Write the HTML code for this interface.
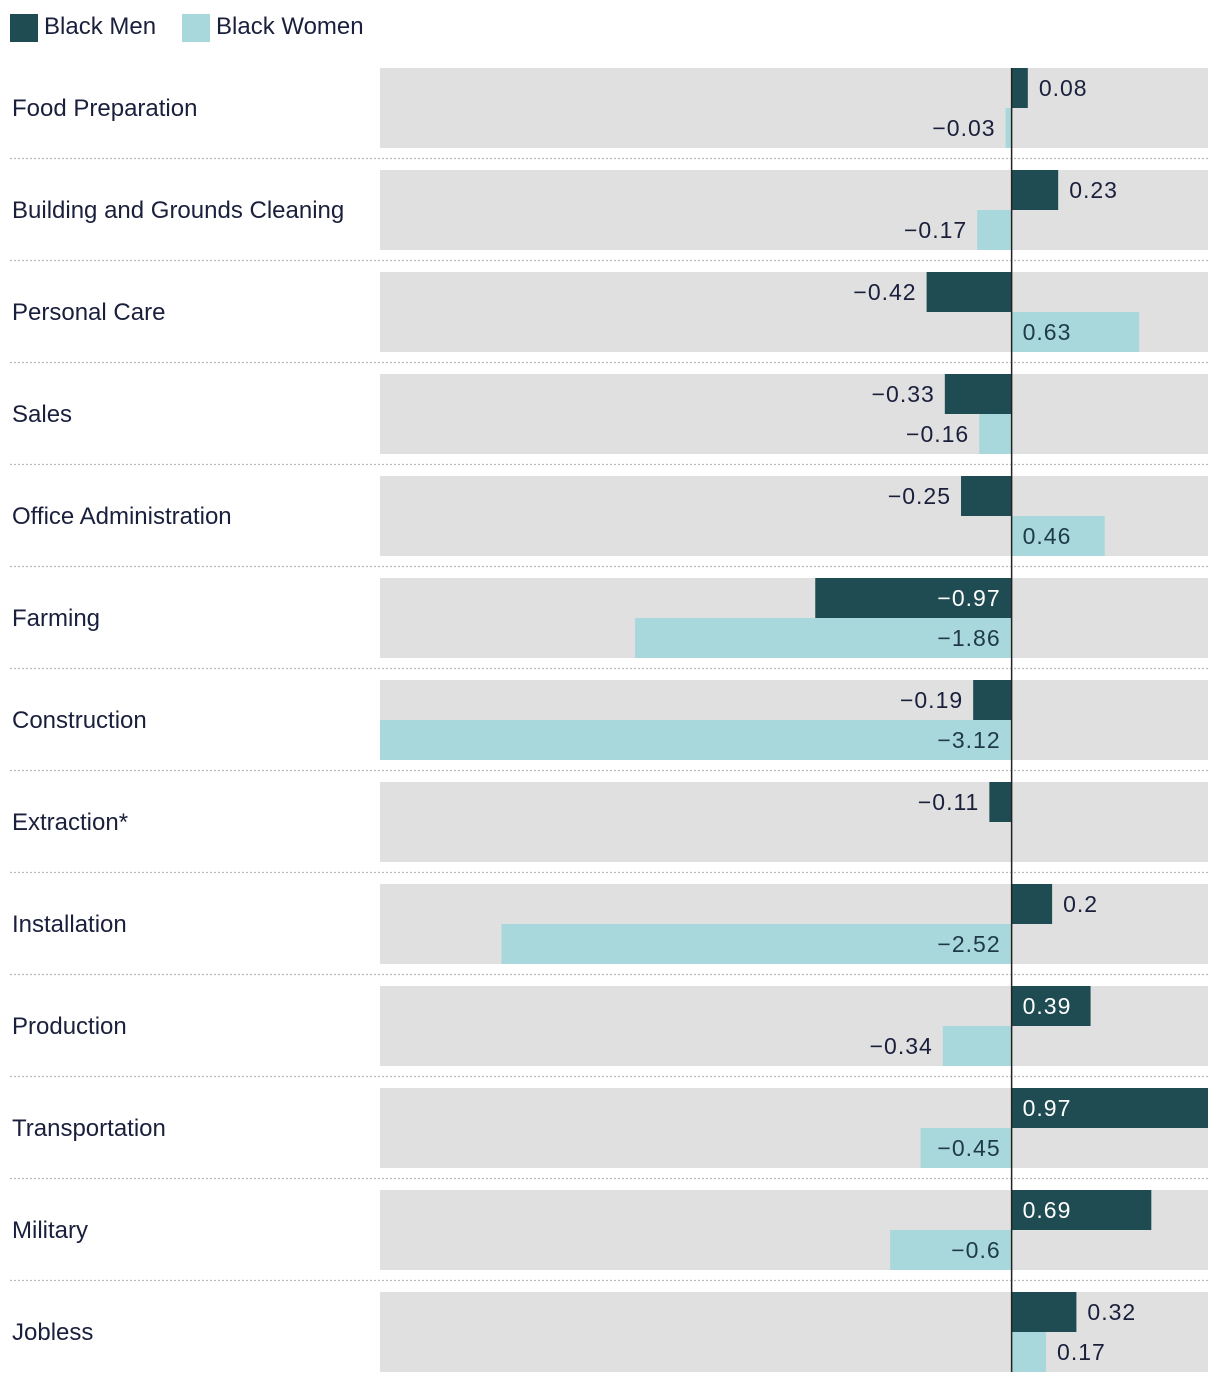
<!DOCTYPE html>
<html><head><meta charset="utf-8">
<style>
body{margin:0;background:#fff;width:1220px;height:1384px;overflow:hidden;font-family:"Liberation Sans",sans-serif;}
svg text{font-family:"Liberation Sans",sans-serif;}
</style></head>
<body>
<svg id="c" width="1220" height="1384" xmlns="http://www.w3.org/2000/svg">
  <g>
    <rect x="10" y="14" width="28" height="28" fill="#1e4c52"/>
    <text x="44" y="34" font-size="24" fill="#1a1f3c">Black Men</text>
    <rect x="182" y="14" width="28" height="28" fill="#a8d8dc"/>
    <text x="216" y="34" font-size="24" fill="#1a1f3c">Black Women</text>
  </g>
</svg>
<script>
const categories=["Food Preparation","Building and Grounds Cleaning","Personal Care","Sales","Office Administration","Farming","Construction","Extraction*","Installation","Production","Transportation","Military","Jobless"];
const menValues=[0.08,0.23,-0.42,-0.33,-0.25,-0.97,-0.19,-0.11,0.2,0.39,0.97,0.69,0.32];
const womenValues=[-0.03,-0.17,0.63,-0.16,0.46,-1.86,-3.12,null,-2.52,-0.34,-0.45,-0.6,0.17];
const xMin=-3.12,xMax=0.97;
const svg=document.getElementById('c');
const NS="http://www.w3.org/2000/svg";
const L=380,R=1208,top0=68,pitch=102,bh=40;
function x(v){return L+(v-xMin)/(xMax-xMin)*(R-L);}
function mk(t,a){const e=document.createElementNS(NS,t);for(const k in a)e.setAttribute(k,a[k]);svg.appendChild(e);return e;}
const x0=x(0);
categories.forEach((cat,i)=>{
  const y=top0+i*pitch;
  const band=mk('rect',{x:L,y:y,width:R-L,height:80,fill:'#e0e0e0'});
  
  
  const lab=mk('text',{x:12,y:y+48,'font-size':24,fill:'#1a1f3c'});
  lab.textContent=cat;
  
  
  if(i<categories.length-1){
    const sep=mk('line',{x1:10,x2:R,y1:y+90.5,y2:y+90.5,stroke:'#bbb','stroke-width':1.2,'stroke-dasharray':'2,2'});
    
    
  }
  [[menValues[i],'#1e4c52','#ffffff',y],[womenValues[i],'#a8d8dc','#1e3a4a',y+40]].forEach(([v,col,inCol,by],k)=>{
    if(v===null||v===undefined)return;
    const xa=x(Math.min(0,v)),xb=x(Math.max(0,v));
    const w=xb-xa;
    const b=mk('rect',{x:xa,y:by,width:Math.max(w,0.5),height:bh,fill:col});
    
    
    const txt=String(v).replace('-','−');
    let tx,anchor,fill;
    const inside=v>=0?w>72:w>88;
    if(v>=0){
      if(inside){tx=x0+11;anchor='start';fill=inCol;}else{tx=xb+11;anchor='start';fill='#1a1f3c';}
    }else{
      if(inside){tx=x0-11;anchor='end';fill=inCol;}else{tx=xa-10;anchor='end';fill='#1a1f3c';}
    }
    const t=mk('text',{x:tx,y:by+28,'font-size':23,fill:fill,'text-anchor':anchor,'letter-spacing':'1'});
    t.textContent=txt;
    
    
  });
});
const ax=mk('line',{x1:x0,x2:x0,y1:68,y2:1372,stroke:'#222','stroke-width':1.5});


</script>
</body></html>
